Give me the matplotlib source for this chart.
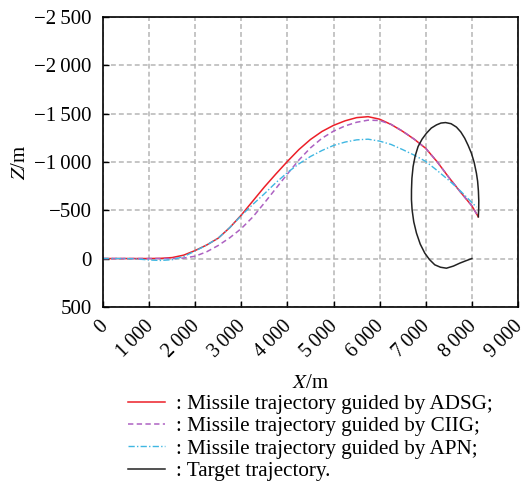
import numpy as np
import matplotlib
matplotlib.use('Agg')
import matplotlib.pyplot as plt
import matplotlib.transforms as mtransforms

plt.rcParams['font.family'] = ['Liberation Serif', 'DejaVu Serif']
plt.rcParams['mathtext.fontset'] = 'stix'

# ADSG missile trajectory
adsg_x = [0, 500, 1000, 1250, 1500, 1750, 2000, 2250, 2500, 2750, 3000, 3250, 3500, 3750,
          4000, 4250, 4500, 4750, 5000, 5250, 5500, 5750, 6000, 6250, 6500, 6750, 7000,
          7250, 7500, 7750, 8000, 8140]
adsg_z = [0, 0, 0, -2, -10, -35, -83, -140, -211, -320, -450, -595, -740, -875,
          -1005, -1128, -1232, -1315, -1378, -1425, -1458, -1468, -1442, -1387, -1316, -1235, -1140,
          -1000, -840, -690, -545, -432]

# CIIG missile trajectory
ciig_x = [0, 500, 1000, 1500, 1750, 2000, 2250, 2500, 2750, 3000, 3250, 3500, 3750, 4000,
          4250, 4500, 4750, 5000, 5250, 5500, 5750, 6000, 6250, 6500, 6750, 7000, 7250,
          7500, 7750, 8000, 8140]
ciig_z = [0, 0, 0, 0, -5, -24, -70, -135, -215, -310, -430, -575, -725, -875,
          -1020, -1145, -1245, -1318, -1372, -1410, -1432, -1428, -1388, -1318, -1235, -1140, -1000,
          -840, -690, -545, -432]

# APN missile trajectory
apn_x = [0, 500, 750, 1000, 1250, 1500, 1750, 2000, 2250, 2500, 2750, 3000, 3250, 3500,
         3750, 4000, 4250, 4500, 4750, 5000, 5250, 5500, 5750, 6000, 6250, 6500, 6750,
         7000, 7250, 7500, 7750, 8000, 8100]
apn_z = [0, 0, 5, 15, 20, 12, -20, -78, -140, -211, -320, -445, -560, -670,
         -785, -890, -980, -1056, -1118, -1170, -1205, -1228, -1235, -1215, -1180, -1127, -1070,
         -1005, -910, -810, -700, -580, -532]

# target trajectory
tgt_x = [8000, 7860, 7737, 7600, 7449, 7320, 7196, 7080, 6979, 6880, 6799, 6740, 6704,
         6690, 6691, 6700, 6726, 6770, 6834, 6920, 7016, 7120, 7233, 7330, 7430, 7550,
         7666, 7760, 7845, 7920, 7990, 8050, 8099, 8125, 8142, 8150, 8148, 8140]
tgt_z = [0, 25, 48, 78, 100, 90, 65, 10, -56, -150, -263, -380, -504,
         -610, -711, -830, -952, -1060, -1159, -1235, -1297, -1350, -1383, -1402, -1407, -1395,
         -1360, -1310, -1245, -1170, -1090, -995, -883, -800, -700, -600, -510, -432]

xticks = np.arange(0, 9001, 1000)
yticks = np.arange(-2500, 501, 500)

def fmt(v):
    s = '{:,}'.format(abs(int(v))).replace(',', '\u2009')
    return ('\u2212' + s) if v < 0 else s

fig = plt.figure(figsize=(5.28, 4.84), dpi=100)
ax = fig.add_axes([0.195, 0.366, 0.786, 0.599])

l1, = ax.plot(adsg_x, adsg_z, color='#ec1f28', lw=1.1)
l2, = ax.plot(ciig_x, ciig_z, color='#ad62c2', lw=1.1, ls=(0, (3.5, 2.2)))
l3, = ax.plot(apn_x, apn_z, color='#3fb7e2', lw=1.0, ls=(0, (4.5, 1.6, 1, 1.6)))
l4, = ax.plot(tgt_x, tgt_z, color='#222222', lw=1.1)

ax.set_xlim(0, 9000)
ax.set_ylim(500, -2500)
ax.set_xticks(xticks)
ax.set_yticks(yticks)
ax.set_xticklabels([fmt(v) for v in xticks], rotation=45, ha='right', va='top',
                   rotation_mode='anchor', fontsize=14.5)
ax.set_yticklabels([fmt(v) for v in yticks], fontsize=15)
ax.tick_params(direction='in', length=4, width=1)
ax.tick_params(axis='x', pad=7.5)
ax.tick_params(axis='y', pad=8)

# nudge the rotated x labels a little left so the last one stays inside
shift = mtransforms.ScaledTranslation(-0.05, 0, fig.dpi_scale_trans)
for lab in ax.get_xticklabels():
    lab.set_transform(lab.get_transform() + shift)

ax.grid(True, color='#b5b5b5', ls=(0, (3.2, 2.0)), lw=1.1)
for s in ax.spines.values():
    s.set_linewidth(1.2)

ax.set_xlabel('$X$/m', fontsize=15, labelpad=9)
ax.set_ylabel('$Z$/m', fontsize=15, labelpad=3)

fig.legend([l1, l2, l3, l4],
           [': Missile trajectory guided by ADSG;',
            ': Missile trajectory guided by CIIG;',
            ': Missile trajectory guided by APN;',
            ': Target trajectory.'],
           loc='upper left', bbox_to_anchor=(0.2424, 0.1855), frameon=False,
           fontsize=15.25, handlelength=1.75, handletextpad=0.5, labelspacing=0.12,
           borderpad=0, borderaxespad=0)

fig.savefig('out.png', dpi=100)
